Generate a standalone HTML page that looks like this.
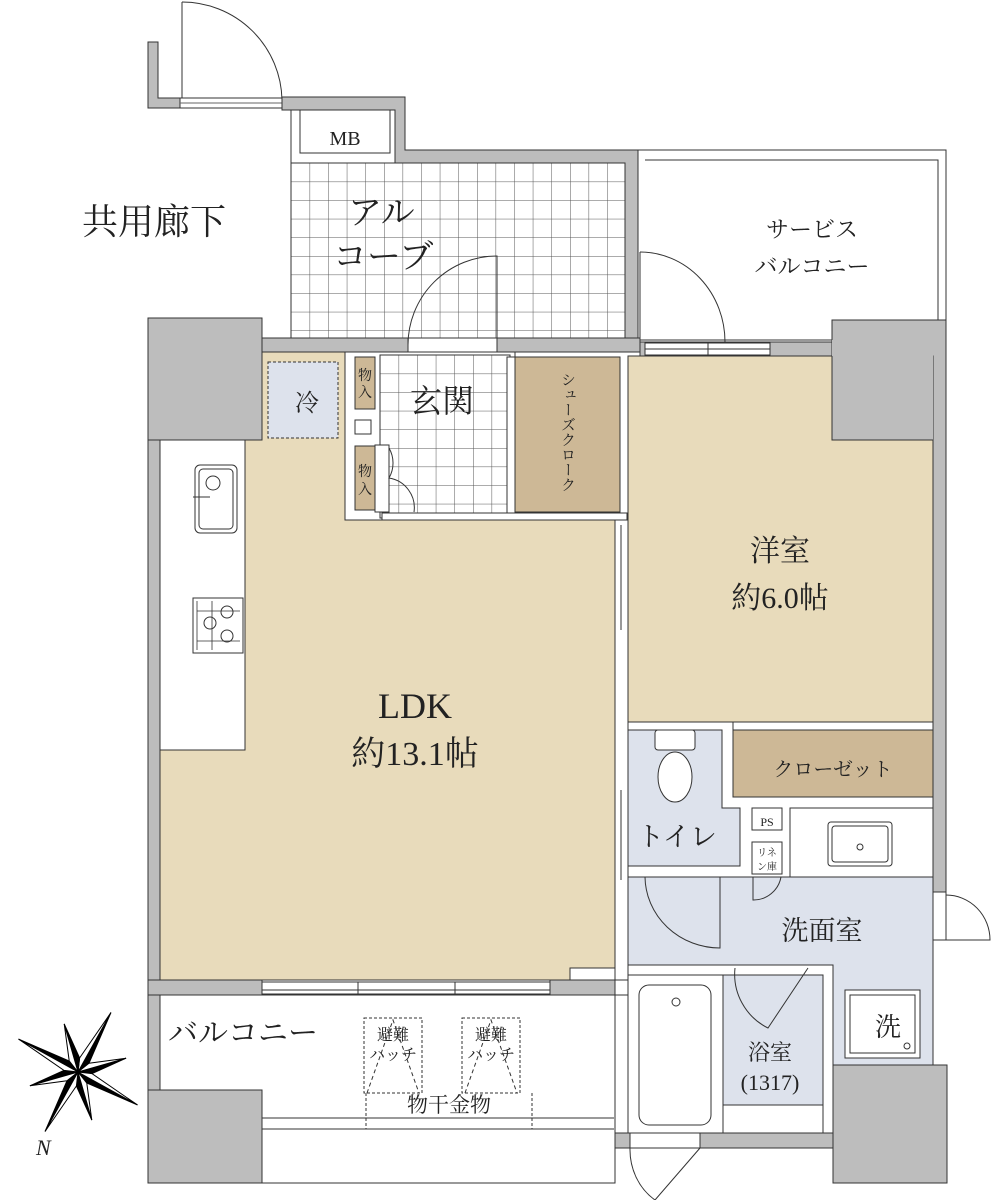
<!DOCTYPE html>
<html><head><meta charset="utf-8"><style>
html,body{margin:0;padding:0;background:#fff;}
svg{display:block;}
text{font-family:"Liberation Serif","Noto Serif CJK SC","Noto Sans CJK JP",serif;fill:#222;}
</style></head><body>
<svg width="992" height="1200" viewBox="0 0 992 1200" xmlns="http://www.w3.org/2000/svg">
<defs>
<pattern id="tile" x="291" y="163" width="18.6" height="18.6" patternUnits="userSpaceOnUse">
<rect width="18.6" height="18.6" fill="#fff"/>
<path d="M0 0H18.6M0 0V18.6" stroke="#555" stroke-width="1" fill="none"/>
</pattern>
<pattern id="tile2" x="380" y="355" width="18.6" height="18.6" patternUnits="userSpaceOnUse">
<rect width="18.6" height="18.6" fill="#fff"/>
<path d="M0 0H18.6M0 0V18.6" stroke="#555" stroke-width="1" fill="none"/>
</pattern>
</defs>
<g stroke="#333" stroke-width="1">
<path d="M148 42H158V98H180V108H148Z" fill="#bdbdbd"/>
<rect x="180" y="98" width="102" height="10" fill="#fff"/>
<path d="M180 103H282" stroke="#666"/>
<path d="M182 2V98" fill="none"/>
<path d="M182 2A100 100 0 0 1 282 100" fill="none"/>
<path d="M282 97H405V150H638V345H625V163H395V110H282Z" fill="#bdbdbd"/>
<rect x="291" y="110" width="104" height="53" fill="#fff"/>
<rect x="300" y="110" width="90" height="43" fill="#fff"/>
<rect x="291" y="163" width="334" height="175" fill="url(#tile)"/>
<rect x="638" y="150" width="308" height="190" fill="#fff"/>
<path d="M645 160H938V320" fill="none"/>
<path d="M640 252A85 90 0 0 1 725 342" fill="none"/>
<path d="M640 252V342" fill="none"/>
<rect x="148" y="318" width="114" height="122" fill="#bdbdbd"/>
<rect x="148" y="440" width="12" height="555" fill="#bdbdbd"/>
<rect x="262" y="338" width="146" height="14" fill="#bdbdbd"/>
<rect x="497" y="338" width="143" height="14" fill="#bdbdbd"/>
<rect x="408" y="338" width="89" height="14" fill="#fff"/>
<path d="M408 345A89 89 0 0 1 497 256V345" fill="none"/>
<rect x="640" y="342" width="192" height="14" fill="#bdbdbd"/>
<rect x="645" y="343" width="125" height="12" fill="#fff"/>
<path d="M645 349H770M708 343V355" fill="none"/>
<path d="M832 320H946V892H933V440H832Z" fill="#bdbdbd"/>
<path d="M262 352H345V520H615V980H160V750H245V440H262Z" fill="#e8dbbb"/>
<rect x="160" y="440" width="85" height="310" fill="#fff"/>
<rect x="195" y="465" width="42" height="68" rx="5" fill="#fff"/>
<rect x="199" y="469" width="34" height="60" rx="4" fill="#fff"/>
<circle cx="213" cy="483" r="7" fill="#fff"/>
<path d="M193 497H210" fill="none"/>
<rect x="193" y="598" width="50" height="55" fill="#fff"/>
<path d="M197 601V650M212 601V650M197 611H240M197 641H240" fill="none" stroke-width="0.8"/>
<circle cx="227" cy="612" r="6" fill="none"/><circle cx="210" cy="623" r="6" fill="none"/><circle cx="227" cy="636" r="6" fill="none"/>
<rect x="268" y="362" width="70" height="76" fill="#dde2ec" stroke-dasharray="3,2"/>
<rect x="345" y="352" width="170" height="168" fill="#fff"/>
<rect x="380" y="355" width="130" height="163" fill="url(#tile2)"/>
<rect x="355" y="357" width="20" height="52" fill="#cdb896"/>
<rect x="355" y="446" width="20" height="64" fill="#cdb896"/>
<rect x="355" y="420" width="16" height="14" fill="#fff"/>
<rect x="375" y="445" width="14" height="67" fill="#fff"/>
<path d="M389 448A30 30 0 0 1 389 478A30 30 0 0 1 414 512" fill="none"/>
<rect x="515" y="357" width="105" height="155" fill="#cdb896"/>
<rect x="507" y="357" width="8" height="163" fill="#fff"/>
<rect x="382" y="513" width="245" height="7" fill="#fff"/>
<rect x="615" y="520" width="13" height="460" fill="#fff"/>
<path d="M621 525V630M621 790V880" fill="none"/>
<rect x="628" y="356" width="305" height="366" fill="#e8dbbb"/>
<rect x="832" y="340" width="101" height="100" fill="#bdbdbd" stroke="none"/>
<path d="M832 356V440H933" fill="none"/>
<rect x="733" y="722" width="200" height="8" fill="#fff"/>
<rect x="733" y="730" width="200" height="67" fill="#cdb896"/>
<path d="M628 730H722V808H740V866H628Z" fill="#dde2ec"/>
<rect x="655" y="730" width="40" height="20" rx="3" fill="#fff"/>
<ellipse cx="675" cy="777" rx="17" ry="25" fill="#fff"/>
<rect x="752" y="808" width="30" height="22" fill="#fff"/>
<rect x="752" y="842" width="30" height="32" fill="#fff"/>
<rect x="790" y="808" width="143" height="69" fill="#fff"/>
<rect x="828" y="822" width="64" height="44" rx="3" fill="#fff"/>
<rect x="832" y="826" width="56" height="36" rx="3" fill="#fff"/>
<circle cx="860" cy="847" r="3" fill="none"/>
<path d="M628 877H933V1065H833V965H628Z" fill="#dde2ec"/>
<path d="M645 877A75 72 0 0 0 720 948V877" fill="none"/>
<path d="M753 877V900A28 28 0 0 0 781 877" fill="none"/>
<rect x="845" y="990" width="75" height="68" fill="#fff"/>
<rect x="850" y="995" width="65" height="58" fill="#fff"/>
<circle cx="907" cy="1046" r="3" fill="none"/>
<rect x="933" y="892" width="13" height="48" fill="#fff"/>
<path d="M946 895A44 45 0 0 1 990 940H946" fill="none"/>
<rect x="628" y="975" width="95" height="158" fill="#fff"/>
<rect x="639" y="985" width="72" height="140" rx="10" fill="#fff"/>
<circle cx="676" cy="1002" r="4" fill="none"/>
<rect x="723" y="975" width="100" height="130" fill="#dde2ec"/>
<rect x="723" y="1105" width="100" height="28" fill="#fff"/>
<path d="M735 968A60 60 0 0 0 768 1028L808 968" fill="none"/>
<rect x="570" y="968" width="45" height="12" fill="#fff"/>
<rect x="833" y="1065" width="114" height="118" fill="#bdbdbd"/>
<rect x="615" y="1133" width="218" height="15" fill="#bdbdbd"/>
<rect x="630" y="1133" width="70" height="15" fill="#fff"/>
<path d="M630 1148A55 60 0 0 0 655 1200L700 1148" fill="none"/>
<rect x="148" y="980" width="114" height="15" fill="#bdbdbd"/>
<rect x="550" y="980" width="65" height="15" fill="#bdbdbd"/>
<rect x="262" y="982" width="288" height="12" fill="#fff"/>
<path d="M262 990H550M358 982V994M455 982V994" fill="none"/>
<rect x="148" y="995" width="12" height="188" fill="#bdbdbd"/>
<rect x="160" y="995" width="455" height="188" fill="#fff"/>
<path d="M262 1118H614M262 1129H614" fill="none"/>
<rect x="148" y="1090" width="114" height="93" fill="#bdbdbd"/>
<rect x="615" y="995" width="13" height="138" fill="#fff"/>
<g fill="none" stroke-dasharray="3,2">
<rect x="364" y="1018" width="58" height="75"/>
<rect x="462" y="1018" width="58" height="75"/>
<path d="M367 1093L393 1020L419 1093M465 1093L491 1020L517 1093" stroke-dasharray="4,3"/>
<path d="M366 1126V1158M532 1126V1158" stroke="none"/>
<path d="M366 1093V1129M532 1093V1129"/>
</g>
</g>
<g transform="translate(78,1072) rotate(-61)" stroke="#000" stroke-width="1">
<g id="arm"><path d="M0 0L68 0L13 5.4Z" fill="#000"/><path d="M0 0L68 0L13 -5.4Z" fill="#fff"/></g>
<g transform="rotate(45)"><path d="M0 0L50 0L13 5.4Z" fill="#000"/><path d="M0 0L50 0L13 -5.4Z" fill="#fff"/></g>
<use href="#arm" transform="rotate(90)"/>
<g transform="rotate(135)"><path d="M0 0L50 0L13 5.4Z" fill="#000"/><path d="M0 0L50 0L13 -5.4Z" fill="#fff"/></g>
<use href="#arm" transform="rotate(180)"/>
<g transform="rotate(225)"><path d="M0 0L50 0L13 5.4Z" fill="#000"/><path d="M0 0L50 0L13 -5.4Z" fill="#fff"/></g>
<use href="#arm" transform="rotate(270)"/>
<g transform="rotate(315)"><path d="M0 0L50 0L13 5.4Z" fill="#000"/><path d="M0 0L50 0L13 -5.4Z" fill="#fff"/></g>
</g>
<text x="36" y="1155" font-size="22" font-style="italic">N</text>
<text x="82" y="234" font-size="36">共用廊下</text>
<text x="348" y="224" font-size="34">アル</text>
<text x="333" y="268" font-size="34">コーブ</text>
<text x="345" y="145" font-size="20" text-anchor="middle">MB</text>
<text x="812" y="237" font-size="23" text-anchor="middle">サービス</text>
<text x="812" y="274" font-size="23" text-anchor="middle">バルコニー</text>
<text x="307" y="411" font-size="24" text-anchor="middle">冷</text>
<text x="365" y="380" font-size="14" text-anchor="middle">物</text>
<text x="365" y="397" font-size="14" text-anchor="middle">入</text>
<text x="365" y="476" font-size="14" text-anchor="middle">物</text>
<text x="365" y="494" font-size="14" text-anchor="middle">入</text>
<text x="410" y="412" font-size="32">玄関</text>
<text font-size="15" writing-mode="tb" x="567" y="372">シューズクローク</text>
<text x="780" y="561" font-size="30" text-anchor="middle">洋室</text>
<text x="780" y="608" font-size="30" text-anchor="middle">約6.0帖</text>
<text x="415" y="718" font-size="36" text-anchor="middle">LDK</text>
<text x="415" y="765" font-size="34" text-anchor="middle">約13.1帖</text>
<text x="833" y="776" font-size="20" text-anchor="middle">クローゼット</text>
<text x="677" y="846" font-size="27" text-anchor="middle">トイレ</text>
<text x="767" y="826" font-size="12" text-anchor="middle">PS</text>
<text x="767" y="856" font-size="10" text-anchor="middle">リネ</text>
<text x="767" y="870" font-size="10" text-anchor="middle">ン庫</text>
<text x="822" y="940" font-size="27" text-anchor="middle">洗面室</text>
<text x="888" y="1036" font-size="26" text-anchor="middle">洗</text>
<text x="770" y="1060" font-size="22" text-anchor="middle">浴室</text>
<text x="770" y="1090" font-size="22" text-anchor="middle">(1317)</text>
<text x="168" y="1043" font-size="30">バルコニー</text>
<text x="393" y="1040" font-size="16" text-anchor="middle">避難</text>
<text x="393" y="1060" font-size="16" text-anchor="middle">ハッチ</text>
<text x="491" y="1040" font-size="16" text-anchor="middle">避難</text>
<text x="491" y="1060" font-size="16" text-anchor="middle">ハッチ</text>
<text x="449" y="1112" font-size="21" text-anchor="middle">物干金物</text>
</svg>
</body></html>
